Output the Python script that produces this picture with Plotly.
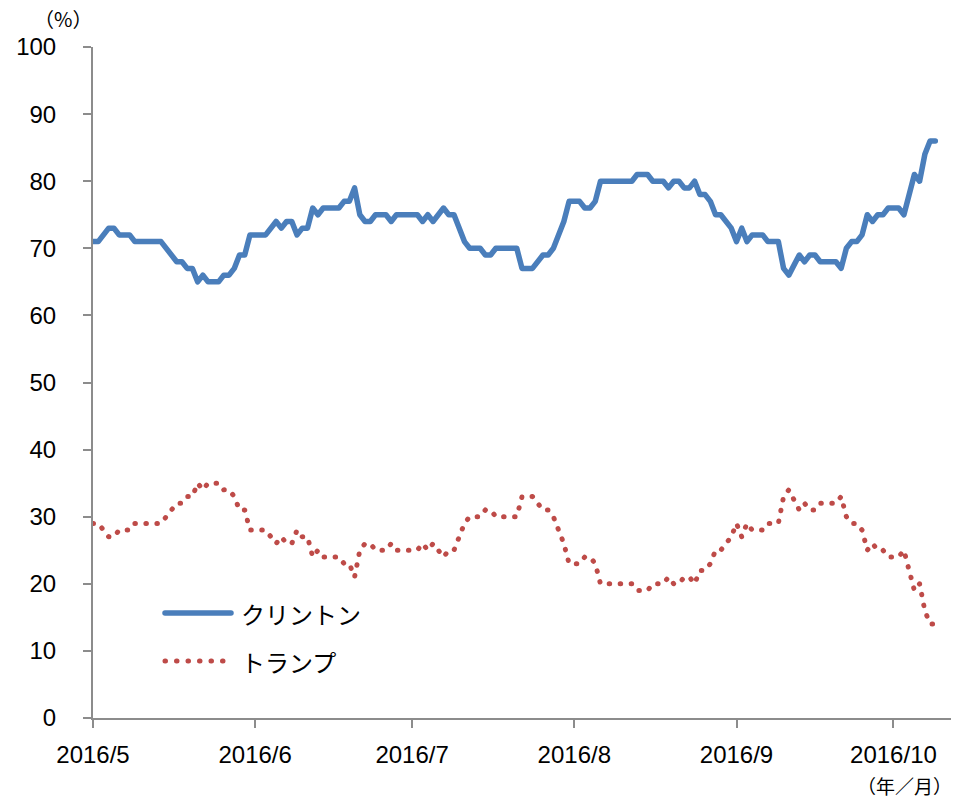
import plotly.graph_objects as go

dates = [
    "2016-05-01", "2016-05-02", "2016-05-04", "2016-05-05", "2016-05-06", "2016-05-08", "2016-05-09",
    "2016-05-14", "2016-05-17", "2016-05-18", "2016-05-19", "2016-05-20", "2016-05-21", "2016-05-22",
    "2016-05-23", "2016-05-25", "2016-05-26", "2016-05-27", "2016-05-28", "2016-05-29", "2016-05-30",
    "2016-05-31", "2016-06-03", "2016-06-05", "2016-06-06", "2016-06-07", "2016-06-08", "2016-06-09",
    "2016-06-10", "2016-06-11", "2016-06-12", "2016-06-13", "2016-06-14", "2016-06-17", "2016-06-18",
    "2016-06-19", "2016-06-20", "2016-06-21", "2016-06-22", "2016-06-23", "2016-06-24", "2016-06-26",
    "2016-06-27", "2016-06-28", "2016-07-02", "2016-07-03", "2016-07-04", "2016-07-05", "2016-07-07",
    "2016-07-08", "2016-07-09", "2016-07-11", "2016-07-12", "2016-07-14", "2016-07-15", "2016-07-16",
    "2016-07-17", "2016-07-21", "2016-07-22", "2016-07-24", "2016-07-26", "2016-07-27", "2016-07-28",
    "2016-07-30", "2016-07-31", "2016-08-02", "2016-08-03", "2016-08-04", "2016-08-05", "2016-08-06",
    "2016-08-12", "2016-08-13", "2016-08-15", "2016-08-16", "2016-08-18", "2016-08-19", "2016-08-20",
    "2016-08-21", "2016-08-22", "2016-08-23", "2016-08-24", "2016-08-25", "2016-08-26", "2016-08-27",
    "2016-08-28", "2016-08-29", "2016-08-31", "2016-09-01", "2016-09-02", "2016-09-03", "2016-09-04",
    "2016-09-06", "2016-09-07", "2016-09-09", "2016-09-10", "2016-09-11", "2016-09-13", "2016-09-14",
    "2016-09-15", "2016-09-16", "2016-09-17", "2016-09-20", "2016-09-21", "2016-09-22", "2016-09-23",
    "2016-09-24", "2016-09-25", "2016-09-26", "2016-09-27", "2016-09-28", "2016-09-29", "2016-09-30",
    "2016-10-02", "2016-10-03", "2016-10-05", "2016-10-06", "2016-10-07", "2016-10-08", "2016-10-09",
]

clinton = [
    71, 71, 73, 73, 72, 72, 71,
    71, 68, 68, 67, 67, 65, 66,
    65, 65, 66, 66, 67, 69, 69,
    72, 72, 74, 73, 74, 74, 72,
    73, 73, 76, 75, 76, 76, 77,
    77, 79, 75, 74, 74, 75, 75,
    74, 75, 75, 74, 75, 74, 76,
    75, 75, 71, 70, 70, 69, 69,
    70, 70, 67, 67, 69, 69, 70,
    74, 77, 77, 76, 76, 77, 80,
    80, 81, 81, 80, 80, 79, 80,
    80, 79, 79, 80, 78, 78, 77,
    75, 75, 73, 71, 73, 71, 72,
    72, 71, 71, 67, 66, 69, 68,
    69, 69, 68, 68, 67, 70, 71,
    71, 72, 75, 74, 75, 75, 76,
    76, 75, 81, 80, 84, 86, 86,
]

trump = [
    29, 29, 27, 27, 28, 28, 29,
    29, 32, 32, 33, 33, 35, 34,
    35, 35, 34, 34, 33, 31, 31,
    28, 28, 26, 27, 26, 26, 28,
    27, 27, 24, 25, 24, 24, 23,
    23, 21, 25, 26, 26, 25, 25,
    26, 25, 25, 26, 25, 26, 24,
    25, 25, 29, 30, 30, 31, 31,
    30, 30, 33, 33, 31, 31, 30,
    26, 23, 23, 24, 24, 23, 20,
    20, 19, 19, 20, 20, 21, 20,
    20, 21, 21, 20, 22, 22, 23,
    25, 25, 27, 29, 27, 29, 28,
    28, 29, 29, 33, 34, 31, 32,
    31, 31, 32, 32, 33, 30, 29,
    29, 28, 25, 26, 25, 25, 24,
    24, 25, 19, 20, 16, 14, 14,
]

month_ticks = ["2016-05-01", "2016-06-01", "2016-07-01", "2016-08-01", "2016-09-01", "2016-10-01"]
month_labels = ["2016/5", "2016/6", "2016/7", "2016/8", "2016/9", "2016/10"]
y_ticks = [0, 10, 20, 30, 40, 50, 60, 70, 80, 90, 100]

series_names = ["クリントン", "トランプ"]
blue = "#4A7EBB"
red = "#BE4B48"
axis_gray = "#8C8C8C"

fig = go.Figure()
fig.add_trace(go.Scatter(
    x=dates, y=clinton, mode="lines", name=series_names[0],
    line=dict(color=blue, width=5.5), showlegend=False, hoverinfo="skip",
))
fig.add_trace(go.Scatter(
    x=dates, y=trump, mode="lines", name=series_names[1],
    line=dict(color=red, width=5, dash="0.5px,10.5px"), showlegend=False, hoverinfo="skip",
))

# custom legend (line sample + text)
fig.add_shape(type="line", xref="paper", yref="paper",
              x0=(165 - 93) / 858, x1=(231 - 93) / 858,
              y0=(718 - 613) / 671, y1=(718 - 613) / 671,
              line=dict(color=blue, width=5.5))
fig.add_shape(type="line", xref="paper", yref="paper",
              x0=(165 - 93) / 858, x1=(232 - 93) / 858,
              y0=(718 - 661) / 671, y1=(718 - 661) / 671,
              line=dict(color=red, width=5, dash="0.5px,11px"))
for name, ypix in zip(series_names, [613, 661]):
    fig.add_annotation(xref="paper", yref="paper", x=(239 - 93) / 858, y=(718 - ypix) / 671,
                       text=name, showarrow=False, xanchor="left", yanchor="middle",
                       font=dict(family="Noto Sans CJK JP", size=24, color="#000000"))

fig.add_annotation(xref="paper", yref="paper", x=(63 - 93) / 858, y=(718 - 18) / 671,
                   text="（%）", showarrow=False, xanchor="center", yanchor="middle",
                   font=dict(family="Noto Sans CJK JP", size=20, color="#000000"))
fig.add_annotation(xref="paper", yref="paper", x=(954 - 93) / 858, y=(718 - 785) / 671,
                   text="（年／月）", showarrow=False, xanchor="right", yanchor="middle",
                   font=dict(family="Noto Sans CJK JP", size=19, color="#000000"))

fig.update_layout(
    width=956, height=799,
    margin=dict(l=93, r=5, t=47, b=81),
    paper_bgcolor="white", plot_bgcolor="white",
    font=dict(family="Liberation Sans, Arial, sans-serif", size=24, color="#000000"),
)
fig.update_xaxes(
    type="date", range=["2016-05-01", "2016-10-12"],
    tickmode="array", tickvals=month_ticks, ticktext=month_labels,
    showgrid=False, zeroline=False,
    showline=True, linecolor=axis_gray, linewidth=2,
    ticks="outside", ticklen=8, tickwidth=2, tickcolor=axis_gray,
    tickfont=dict(size=24), ticklabelstandoff=6,
)
fig.update_yaxes(
    range=[0, 100], tickmode="array", tickvals=y_ticks,
    showgrid=False, zeroline=False,
    showline=True, linecolor=axis_gray, linewidth=2,
    ticks="outside", ticklen=8, tickwidth=2, tickcolor=axis_gray,
    tickfont=dict(size=24), ticklabelstandoff=22,
)

post = """
document.body.style.margin = '0px';
var gd = document.getElementById('{plot_id}');
function roundCaps() {
  gd.querySelectorAll('.scatterlayer path.js-line').forEach(function(p) {
    p.style.strokeLinecap = 'round';
    p.style.strokeLinejoin = 'round';
  });
  gd.querySelectorAll('.shapelayer path').forEach(function(p) {
    p.style.strokeLinecap = 'round';
  });
}
roundCaps();
gd.on('plotly_afterplot', roundCaps);
"""

fig.write_html("out.html", post_script=post, config={"displayModeBar": False})
